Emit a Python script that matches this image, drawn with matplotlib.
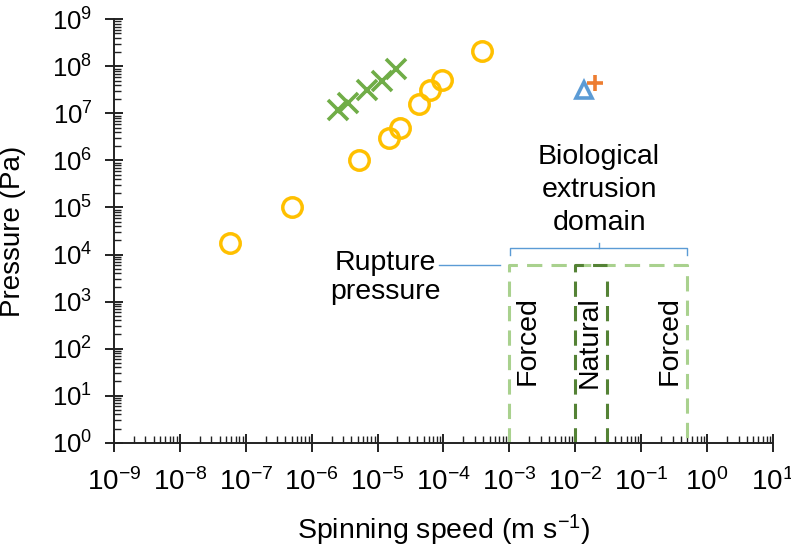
import numpy as np
import matplotlib.pyplot as plt
from matplotlib.ticker import LogLocator, NullFormatter

plt.rcParams['font.family'] = ['Liberation Sans', 'DejaVu Sans']
plt.rcParams['mathtext.fontset'] = 'custom'
plt.rcParams['mathtext.rm'] = 'Liberation Sans'
plt.rcParams['mathtext.it'] = 'Liberation Sans'

# data
speed_circ = [5.8e-8, 5.0e-7, 5.2e-6, 1.5e-5, 2.2e-5, 4.2e-5, 6.3e-5, 9.5e-5, 3.8e-4]
press_circ = [1.8e4, 1.0e5, 1.0e6, 3.0e6, 5.0e6, 1.6e7, 3.2e7, 5.2e7, 2.1e8]
speed_x = [2.5e-6, 3.5e-6, 7.0e-6, 1.15e-5, 1.9e-5]
press_x = [1.2e7, 1.7e7, 3.1e7, 4.8e7, 8.8e7]
speed_tri = [1.35e-2]
press_tri = [3.2e7]
speed_plus = [2.0e-2]
press_plus = [4.5e7]

rupture = 6e3
forced_range = [1e-3, 0.5]
natural_range = [1e-2, 3e-2]

fig = plt.figure(figsize=(7.91, 5.47), dpi=100)
ax = fig.add_axes([0.1441, 0.1907, 0.8331, 0.774])

ax.plot(speed_circ, press_circ, 'o', ms=14, mfc='none', mec='#FFC000', mew=2.5, clip_on=False)
ax.plot(speed_x, press_x, 'x', ms=14, mec='#70AD47', mew=2.6, clip_on=False)
ax.plot(speed_tri, press_tri, '^', ms=12, mfc='none', mec='#5B9BD5', mew=2.6)
ax.plot(speed_plus, press_plus, '+', ms=11, mec='#ED7D31', mew=2.6)

# forced box (light green)
lg = '#A9D18E'
ax.plot([forced_range[0], forced_range[0], forced_range[1], forced_range[1]],
        [1, rupture, rupture, 1], '--', color=lg, lw=2.2, dashes=(5, 3))
# natural box (dark green)
dg = '#548235'
ax.plot([natural_range[0], natural_range[0], natural_range[1]],
        [1, rupture, rupture], '--', color=dg, lw=2.2, dashes=(5, 3))
ax.plot([natural_range[1], natural_range[1]], [1, rupture * 0.7], '--', color=dg, lw=2.2, dashes=(5, 3))

fs = 20.5
ax.text(1.9e-3, 1.5e2, 'Forced', rotation=90, ha='center', va='center', fontsize=fs)
ax.text(1.66e-2, 1.4e2, 'Natural', rotation=90, ha='center', va='center', fontsize=fs)
ax.text(0.27, 1.5e2, 'Forced', rotation=90, ha='center', va='center', fontsize=fs)

# annotations
blue = '#5B9BD5'
ax.text(1.3e-5, 3.2e3, 'Rupture\npressure', ha='center', va='center', fontsize=fs, linespacing=1.15)
ax.plot([8.5e-5, 7.3e-4], [rupture, rupture], color=blue, lw=1.0)
ax.plot([forced_range[0] * 1.03, forced_range[0] * 1.03, forced_range[1], forced_range[1]],
        [9.8e3, 1.38e4, 1.38e4, 9.8e3], color=blue, lw=1.0)
ax.plot([2.3e-2, 2.3e-2], [1.38e4, 1.78e4], color=blue, lw=1.0)
ax.text(2.3e-2, 2.4e5, 'Biological\nextrusion\ndomain', ha='center', va='center',
        fontsize=fs, linespacing=1.35)

ax.set_xscale('log')
ax.set_yscale('log')
ax.set_xlim(1e-9, 1e1)
ax.set_ylim(1, 1e9)
ax.xaxis.set_major_locator(LogLocator(base=10, numticks=20))
ax.yaxis.set_major_locator(LogLocator(base=10, numticks=20))
ax.xaxis.set_minor_locator(LogLocator(base=10, subs=np.arange(2, 10), numticks=20))
ax.yaxis.set_minor_locator(LogLocator(base=10, subs=np.arange(2, 10), numticks=20))
ax.xaxis.set_minor_formatter(NullFormatter())
ax.yaxis.set_minor_formatter(NullFormatter())

for s in ['top', 'right']:
    ax.spines[s].set_visible(False)
for s in ['left', 'bottom']:
    ax.spines[s].set_linewidth(1.4)
    ax.spines[s].set_color('#222222')

ax.tick_params(which='major', direction='inout', length=13, width=1.4, color='#222222')
ax.tick_params(axis='x', which='major', pad=12, labelsize=20)
ax.tick_params(axis='y', which='major', pad=9, labelsize=18.5)
ax.tick_params(which='minor', direction='in', length=5, width=1.0, color='#222222')

ax.set_xlabel('Spinning speed (m s$^{-1}$)', fontsize=fs, labelpad=12)
ax.set_ylabel('Pressure (Pa)', fontsize=20)
ax.yaxis.set_label_coords(-0.133, 0.5)

fig.savefig('out.png', dpi=100)
